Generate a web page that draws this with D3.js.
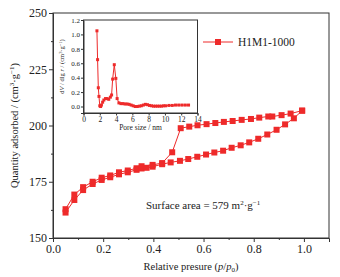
<!DOCTYPE html>
<html lang="en">
<head>
<meta charset="UTF-8">
<title>H1M1-1000 isotherm</title>
<style>
  body { margin: 0; background: #fff; }
  svg text { font-family: "Liberation Serif", "DejaVu Serif", serif; fill: #222; }
  .axis path, .axis line { stroke: #333; }
</style>
</head>
<body>
<div class="chart"></div>
<script src="https://d3js.org/d3.v7.min.js"></script>
<script>
  // adsorption branch
  const adsX = [0.05,0.085,0.12,0.158,0.194,0.228,0.263,0.298,0.333,0.353,0.373,0.397,0.435,0.469,0.506,0.539,0.575,0.610,0.643,0.678,0.712,0.748,0.782,0.818,0.854,0.891,0.925,0.960,0.993]
  const adsY = [161.3,166.9,171.3,174.0,175.8,177.0,178.3,179.2,180.3,180.9,181.2,181.7,182.8,183.6,184.3,185.1,186.1,187.1,188.0,188.8,190.1,191.2,192.5,194.1,196.0,198.1,200.5,203.2,206.6]
  // desorption branch
  const desX = [0.993,0.947,0.911,0.874,0.858,0.822,0.789,0.752,0.716,0.681,0.647,0.612,0.576,0.543,0.509,0.475,0.435,0.397,0.353,0.333,0.298,0.263,0.228,0.194,0.158,0.12,0.085,0.05]
  const desY = [206.6,205.3,204.6,204.0,204.0,203.5,202.9,202.5,202.0,201.6,201.1,200.6,200.1,199.5,198.8,188.1,183.3,182.5,181.9,181.0,180.0,179.2,177.8,176.8,175.0,172.6,169.3,162.8]
  // pore size distribution (inset)
  const psdX = [1.65,1.73,1.82,1.9,2.0,2.1,2.2,2.35,2.5,2.7,2.9,3.1,3.3,3.45,3.58,3.78,3.97,4.13,4.35,4.6,4.85,5.1,5.35,5.6,5.85,6.1,6.35,6.6,6.85,7.1,7.35,7.6,7.85,8.1,8.35,8.6,8.85,9.1,9.35,9.6,9.85,10.1,10.5,10.9,11.3,11.7,12.1,12.5,12.9]
  const psdY = [1.05,0.65,0.26,0.14,0.01,0.0,0.02,0.06,0.09,0.11,0.11,0.10,0.13,0.16,0.38,0.58,0.39,0.11,0.05,0.04,0.04,0.035,0.035,0.03,0.02,0.01,0.0,0.0,0.005,0.01,0.02,0.03,0.025,0.015,0.01,0.005,0.005,0.005,0.005,0.005,0.01,0.01,0.015,0.015,0.02,0.02,0.02,0.02,0.02]

  const xTicks = [0, 0.2, 0.4, 0.6, 0.8, 1.0]
  const yTicks = [150, 175, 200, 225, 250]
  const insetXTicks = [0, 2, 4, 6, 8, 10, 12, 14]
  const insetYTicks = [0, 0.2, 0.4, 0.6, 0.8, 1.0, 1.2]
  const seriesName = 'H1M1-1000'

  const red = '#ee2a2a'
  const W = 340, H = 277

  const svg = d3.select('.chart').append('svg')
                .attr('width', W).attr('height', H)

  // main scales
  const x = d3.scaleLinear().domain([0, 1.1]).range([53, 329])
  const y = d3.scaleLinear().domain([150, 250]).range([238, 13])

  // frame
  svg.append('rect')
     .attr('x', x(0)).attr('y', y(250))
     .attr('width', x(1.1) - x(0)).attr('height', y(150) - y(250))
     .attr('fill', 'none').attr('stroke', '#333')

  // x axis + minor ticks
  svg.append('g').attr('class', 'axis')
     .attr('transform', `translate(0,${y(150)})`)
     .call(d3.axisBottom(x).tickValues(xTicks).tickSize(4).tickPadding(2).tickFormat(d3.format('.1f')))
     .call(g => g.selectAll('text').attr('font-size', 12))
  svg.append('g').attr('class', 'axis')
     .attr('transform', `translate(0,${y(150)})`)
     .call(d3.axisBottom(x).tickValues([0.1, 0.3, 0.5, 0.7, 0.9]).tickSize(2).tickFormat(''))
     .call(g => g.select('.domain').remove())

  // y axis + minor ticks
  svg.append('g').attr('class', 'axis')
     .attr('transform', `translate(${x(0)},0)`)
     .call(d3.axisLeft(y).tickValues(yTicks).tickSize(4).tickPadding(2))
     .call(g => g.selectAll('text').attr('font-size', 12))
  svg.append('g').attr('class', 'axis')
     .attr('transform', `translate(${x(0)},0)`)
     .call(d3.axisLeft(y).tickValues([162.5, 187.5, 212.5, 237.5]).tickSize(2).tickFormat(''))
     .call(g => g.select('.domain').remove())

  // axis titles
  const xt = svg.append('text')
     .attr('x', 191).attr('y', 270)
     .attr('text-anchor', 'middle').attr('font-size', 10.5)
  xt.append('tspan').text('Relative presure (')
  xt.append('tspan').attr('font-style', 'italic').text('p')
  xt.append('tspan').text('/')
  xt.append('tspan').attr('font-style', 'italic').text('p')
  xt.append('tspan').attr('font-size', 7).attr('dy', 2).text('0')
  xt.append('tspan').attr('dy', -2).text(')')

  const yt = svg.append('text')
     .attr('transform', `translate(18,${(y(150) + y(250)) / 2}) rotate(-90)`)
     .attr('text-anchor', 'middle').attr('font-size', 10.5)
  yt.append('tspan').text('Quantity adsorbed / (cm')
  yt.append('tspan').attr('font-size', 7).attr('dy', -4).text('3')
  yt.append('tspan').attr('dy', 4).text('·g')
  yt.append('tspan').attr('font-size', 7).attr('dy', -4).text('−1')
  yt.append('tspan').attr('dy', 4).text(')')

  // isotherm
  const ads = adsX.map((v, i) => [v, adsY[i]])
  const des = desX.map((v, i) => [v, desY[i]])
  const line = d3.line().x(d => x(d[0])).y(d => y(d[1]))
  const ms = 6

  ;[des, ads].forEach(s => {
    svg.append('path').datum(s)
       .attr('d', line).attr('fill', 'none')
       .attr('stroke', red).attr('stroke-width', 1)
    svg.append('g').selectAll('rect').data(s).join('rect')
       .attr('x', d => x(d[0]) - ms / 2).attr('y', d => y(d[1]) - ms / 2)
       .attr('width', ms).attr('height', ms).attr('fill', red)
  })

  // legend
  svg.append('line').attr('x1', 203).attr('x2', 233).attr('y1', 42).attr('y2', 42)
     .attr('stroke', red).attr('stroke-width', 1)
  svg.append('rect').attr('x', 218 - ms / 2).attr('y', 42 - ms / 2)
     .attr('width', ms).attr('height', ms).attr('fill', red)
  svg.append('text').attr('x', 238).attr('y', 46).attr('font-size', 11.5).text(seriesName)

  // surface area note
  const sa = svg.append('text').attr('x', 146).attr('y', 209).attr('font-size', 11)
  sa.append('tspan').text('Surface area = 579 m')
  sa.append('tspan').attr('font-size', 7).attr('dy', -4).text('2')
  sa.append('tspan').attr('dy', 4).text('·g')
  sa.append('tspan').attr('font-size', 7).attr('dy', -4).text('−1')

  // inset
  const ix = d3.scaleLinear().domain([0, 14]).range([83.5, 197.5])
  const iy = d3.scaleLinear().domain([-0.09, 1.2]).range([113, 20])

  svg.append('rect')
     .attr('x', ix(0)).attr('y', iy(1.2))
     .attr('width', ix(14) - ix(0)).attr('height', iy(-0.09) - iy(1.2))
     .attr('fill', '#fff').attr('stroke', '#333')

  svg.append('g').attr('class', 'axis')
     .attr('transform', `translate(0,${iy(-0.09)})`)
     .call(d3.axisBottom(ix).tickValues(insetXTicks).tickSize(2.5).tickPadding(1))
     .call(g => g.selectAll('text').attr('font-size', 7.5))
  svg.append('g').attr('class', 'axis')
     .attr('transform', `translate(${ix(0)},0)`)
     .call(d3.axisLeft(iy).tickValues(insetYTicks).tickSize(2.5).tickPadding(1).tickFormat(d3.format('.1f')))
     .call(g => g.selectAll('text').attr('font-size', 7))

  const ixt = svg.append('text').attr('x', (ix(0) + ix(14)) / 2).attr('y', 130)
     .attr('text-anchor', 'middle').attr('font-size', 7.5)
  ixt.append('tspan').text('Pore size / nm')

  const iyt = svg.append('text')
     .attr('transform', `translate(64,${(iy(-0.09) + iy(1.2)) / 2}) rotate(-90)`)
     .attr('text-anchor', 'middle').attr('font-size', 6.5)
  iyt.append('tspan').text('d')
  iyt.append('tspan').attr('font-style', 'italic').text('V')
  iyt.append('tspan').text(' / dlg ')
  iyt.append('tspan').attr('font-style', 'italic').text('r')
  iyt.append('tspan').text(' / (cm')
  iyt.append('tspan').attr('font-size', 4.5).attr('dy', -2.5).text('3')
  iyt.append('tspan').attr('dy', 2.5).text('·g')
  iyt.append('tspan').attr('font-size', 4.5).attr('dy', -2.5).text('−1')
  iyt.append('tspan').attr('dy', 2.5).text(')')

  const psd = psdX.map((v, i) => [v, psdY[i]])
  svg.append('path').datum(psd)
     .attr('d', d3.line().x(d => ix(d[0])).y(d => iy(d[1])))
     .attr('fill', 'none').attr('stroke', red).attr('stroke-width', 1)
  const im = 3
  svg.append('g').selectAll('rect').data(psd).join('rect')
     .attr('x', d => ix(d[0]) - im / 2).attr('y', d => iy(d[1]) - im / 2)
     .attr('width', im).attr('height', im).attr('fill', red)
</script>
</body>
</html>
